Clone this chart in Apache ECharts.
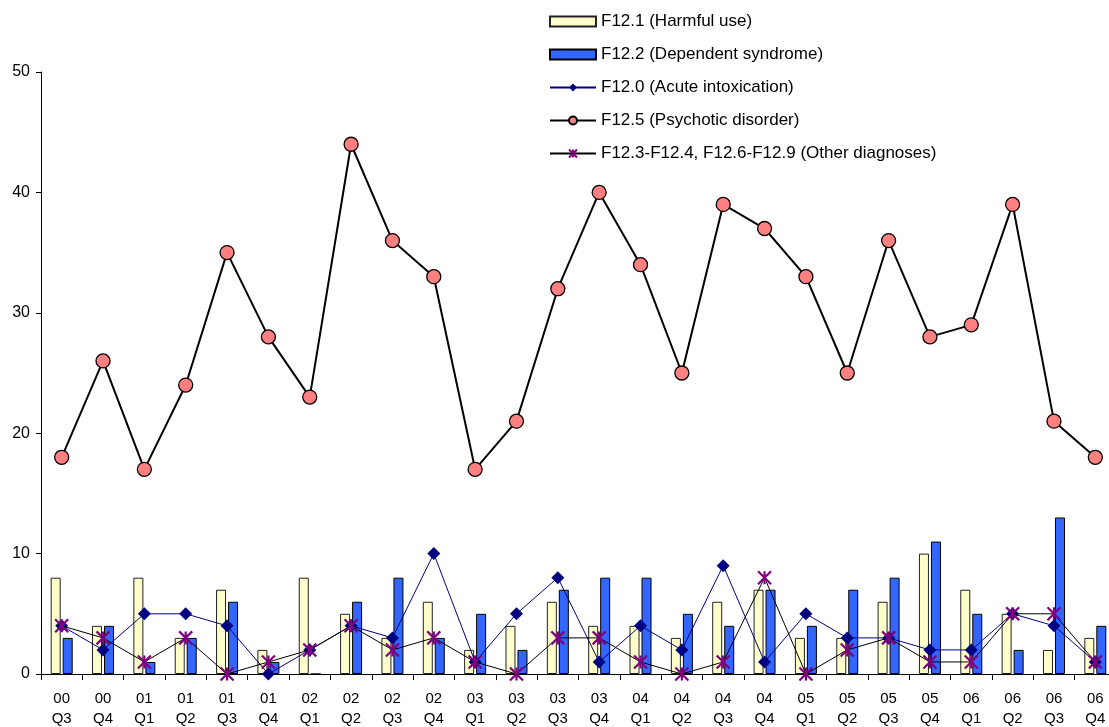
<!DOCTYPE html>
<html><head><meta charset="utf-8">
<script src="https://cdn.jsdelivr.net/npm/echarts@6/dist/echarts.min.js"></script>
<style>html,body{margin:0;padding:0;background:#fff;overflow:hidden}#c{width:1109px;height:727px}</style>
</head><body><div id="c"></div>
<script>
const categories = ['00\nQ3','00\nQ4','01\nQ1','01\nQ2','01\nQ3','01\nQ4','02\nQ1','02\nQ2','02\nQ3','02\nQ4','03\nQ1','03\nQ2','03\nQ3','03\nQ4','04\nQ1','04\nQ2','04\nQ3','04\nQ4','05\nQ1','05\nQ2','05\nQ3','05\nQ4','06\nQ1','06\nQ2','06\nQ3','06\nQ4'];
const harmfulUse = [8,4,8,3,7,2,8,5,3,6,2,4,6,4,4,3,6,7,3,3,6,10,7,5,2,3];
const dependent = [3,4,1,3,6,1,0,6,8,3,5,2,7,8,8,5,4,7,4,7,8,11,5,2,13,4];
const acute = [4,2,5,5,4,0,2,4,3,10,1,5,8,1,4,2,9,1,5,3,3,2,2,5,4,1];
const psychotic = [18,26,17,24,35,28,23,44,36,33,17,21,32,40,34,25,39,37,33,25,36,28,29,39,21,18];
const other = [4,3,1,3,0,1,2,4,2,3,1,0,3,3,1,0,1,8,0,2,3,1,1,5,5,1];
const yTicks = [0,10,20,30,40,50];

const chart = echarts.init(document.getElementById('c'));
const font = 'Arial, "Liberation Sans", sans-serif';
chart.setOption({
  animation: false,
  backgroundColor: '#fff',
  textStyle: {fontFamily: font},
  legend: {
    orient: 'vertical', left: 544, top: 8,
    itemWidth: 46, itemHeight: 10, itemGap: 16,
    textStyle: {fontSize: 17, color: '#000', fontFamily: font},
    data: [
      {name: 'F12.1 (Harmful use)', icon: 'rect'},
      {name: 'F12.2 (Dependent syndrome)', icon: 'rect'},
      'F12.0 (Acute intoxication)','F12.5 (Psychotic disorder)','F12.3-F12.4, F12.6-F12.9 (Other diagnoses)']
  },
  grid: {left: 41, top: 72, width: 1075, height: 602, containLabel: false, outerBoundsMode: 'none'},
  xAxis: {
    type: 'category', data: categories,
    axisLine: {lineStyle: {color: '#000', width: 1}},
    axisTick: {show: true, alignWithLabel: false, length: 6, lineStyle: {color: '#000'}},
    axisLabel: {color: '#000', fontSize: 15, lineHeight: 20, margin: 15, interval: 0, fontFamily: font}
  },
  yAxis: {
    type: 'value', min: yTicks[0], max: yTicks[yTicks.length-1], interval: 10,
    splitLine: {show: false},
    axisLine: {show: true, lineStyle: {color: '#000'}},
    axisTick: {show: true, length: 5, lineStyle: {color: '#000'}},
    axisLabel: {color: '#000', fontSize: 16, margin: 11, fontFamily: font}
  },
  series: [
    {name: 'F12.1 (Harmful use)', type: 'bar', data: harmfulUse, barWidth: 10, barGap: '20%',
     itemStyle: {color: '#FFFFCC', borderColor: '#222', borderWidth: 1}},
    {name: 'F12.2 (Dependent syndrome)', type: 'bar', data: dependent, barWidth: 10,
     itemStyle: {color: '#3366FF', borderColor: '#000', borderWidth: 1}},
    {name: 'F12.0 (Acute intoxication)', type: 'line', data: acute, symbol: 'diamond', symbolSize: 13,
     lineStyle: {color: '#000080', width: 1}, itemStyle: {color: '#000080'}, z: 3},
    {name: 'F12.5 (Psychotic disorder)', type: 'line', data: psychotic, symbol: 'circle', symbolSize: 14,
     lineStyle: {color: '#000', width: 2}, itemStyle: {color: '#FF8080', borderColor: '#000', borderWidth: 1.3}, z: 4},
    {name: 'F12.3-F12.4, F12.6-F12.9 (Other diagnoses)', type: 'line', data: other,
     symbol: 'path://M0,0L10,10M10,0L0,10M5,0L5,10', symbolSize: 13,
     lineStyle: {color: '#000', width: 1}, itemStyle: {color: 'rgba(0,0,0,0)', borderColor: '#800080', borderWidth: 2.2}, z: 5}
  ]
});
</script></body></html>
